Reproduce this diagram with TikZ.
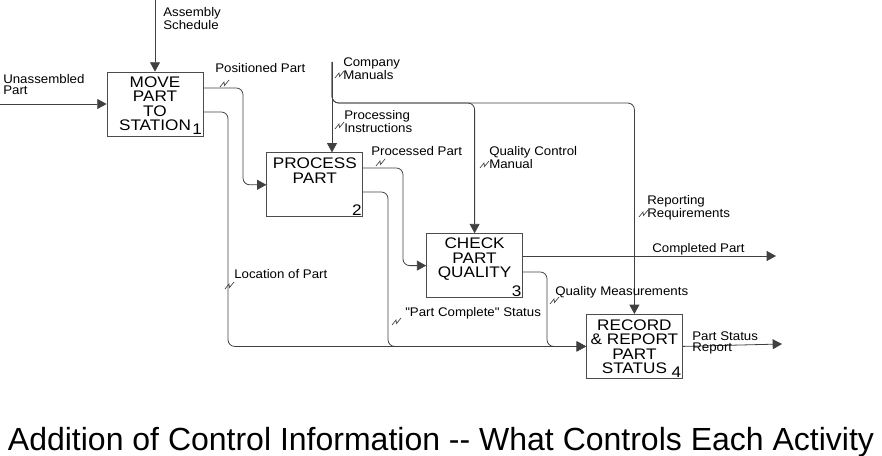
\documentclass[tikz,border=0pt]{standalone}
\usepackage{fontspec}
\setmainfont{Liberation Sans}
\newfontfamily\actfont[FakeStretch=1.12]{Liberation Sans}
\newfontfamily\lblfont[FakeStretch=1.06]{Liberation Sans}
\usepackage{tikz}
\usetikzlibrary{arrows.meta,positioning}

\begin{document}
\begin{tikzpicture}[
    x=0.75pt, y=-0.75pt,
    node distance=12pt and 47.25pt,
    actbox/.style={rectangle, draw=black!70, line width=0.6pt, minimum width=72pt, minimum height=48pt, inner sep=0pt},
    acttext/.style={inner sep=0pt, align=center, font=\actfont\fontsize{11.5}{10.9}\selectfont},
    actnum/.style={inner sep=1pt, anchor=south east, font=\actfont\fontsize{11.5}{10.9}\selectfont},
    lbl/.style={anchor=north west, inner sep=0pt, align=left, font=\lblfont\fontsize{9.4}{8.4}\selectfont},
    flow/.style={draw=black!75, line width=0.6pt, rounded corners=5pt, -{Triangle[length=7pt,width=7.5pt]}},
    squig/.pic={\draw[black!75, line width=0.5pt] (0,0) -- (4,-5) -- (4.5,-1.5) -- (9,-7);}
]
    \useasboundingbox (0,0) rectangle (882,456);

    % --- Activity boxes ---
    \node [actbox] at (155,104) (a1) {};
    \node [actbox, below right=of a1] (a2) {};
    \node [actbox, below right=of a2] (a3) {};
    \node [actbox, below right=of a3] (a4) {};

    \node [acttext, below=3.5pt of a1.north] (t1) {MOVE\\PART\\TO\\STATION};
    \node [acttext, below=4pt of a2.north] (t2) {PROCESS\\PART};
    \node [acttext, below=3.5pt of a3.north] (t3) {CHECK\\PART\\QUALITY};
    \node [acttext, below=4pt of a4.north] (t4) {RECORD\\\& REPORT\\PART\\STATUS};

    \node [actnum] at (a1.south east) (n1) {1};
    \node [actnum] at (a2.south east) (n2) {2};
    \node [actnum] at (a3.south east) (n3) {3};
    \node [actnum] at (a4.south east) (n4) {4};

    % --- Free ends ---
    \coordinate (sched) at (155,0);
    \coordinate (raw) at (0,104);
    \coordinate (manuals) at (332,62);
    \coordinate (done) at (776,256);
    \coordinate (report) at (782,344);

    % --- Inputs and controls ---
    \path [flow] (sched) -- (a1.north);
    \path [flow] (raw) -- (a1.west);
    \path [flow] (manuals) -- (manuals |- a2.north);
    \path [flow] (manuals) |- (a3.north |- 0,103) -- (a3.north);
    \path [flow] (manuals) |- (a4.north |- 0,103) -- (a4.north);

    % --- Outputs ---
    \path [flow] (a1.east |- 0,88) -- (243,88) |- (a2.west);
    \path [flow] (a1.east |- 0,112) -- (228,112) |- (a4.west);
    \path [flow] (a2.east |- 0,168) -- (403,168) |- (a3.west);
    \path [flow] (a2.east |- 0,192) -- (388,192) |- (a4.west);
    \path [flow] (a3.east |- done) -- (done);
    \path [flow] (a3.east |- 0,272) -- (547,272) |- (a4.west);
    \path [flow] (a4.east) -- (report);

    % --- Labels ---
    \node [lbl] at (163,7) (l_sched) {Assembly\\Schedule};
    \node [lbl] at (3,74) (l_raw) {Unassembled\\Part};
    \node [lbl] at (215,63) (l_pos) {Positioned Part};
    \node [lbl] at (343,57) (l_man) {Company\\Manuals};
    \node [lbl] at (344,110) (l_proc) {Processing\\Instructions};
    \node [lbl] at (371,146) (l_done2) {Processed Part};
    \node [lbl] at (489,146) (l_qcm) {Quality Control\\Manual};
    \node [lbl] at (647,195) (l_rep) {Reporting\\Requirements};
    \node [lbl] at (652,243) (l_comp) {Completed Part};
    \node [lbl] at (555,286) (l_qm) {Quality Measurements};
    \node [lbl] at (405,307) (l_stat) {"Part Complete" Status};
    \node [lbl] at (234,269) (l_loc) {Location of Part};
    \node [lbl] at (692,331) (l_psr) {Part Status\\Report};

    \pic at (220,87) {squig};
    \pic at (335,78) {squig};
    \pic at (335,129) {squig};
    \pic at (376,166) {squig};
    \pic at (480,168) {squig};
    \pic at (639,217) {squig};
    \pic at (550,304) {squig};
    \pic at (392,325) {squig};
    \pic at (225,289) {squig};

    % Title
    \node [anchor=base, inner sep=0pt, font=\fontsize{24}{28}\selectfont] at (441,450) (title) {Addition of Control Information -{}- What Controls Each Activity};

\end{tikzpicture}
\end{document}
